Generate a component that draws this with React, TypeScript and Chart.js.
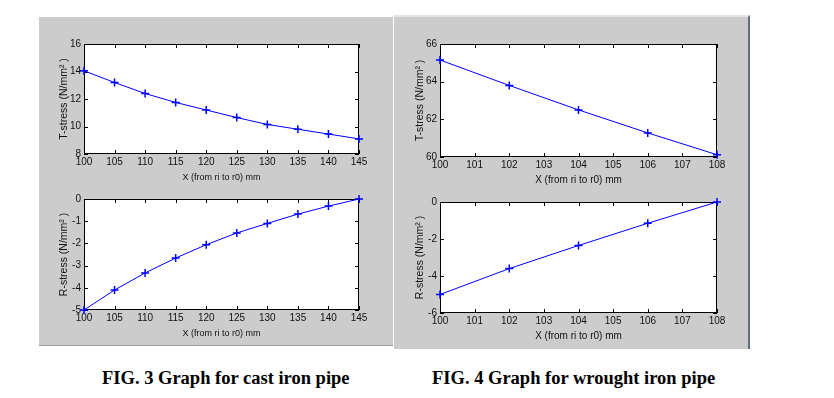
import React, { useEffect, useRef } from 'react';
import { Chart, registerables } from 'chart.js';

Chart.register(...registerables);

// ---- data ----
const castX = [100, 105, 110, 115, 120, 125, 130, 135, 140, 145];
const castT = [14.05, 13.2, 12.4, 11.75, 11.2, 10.65, 10.15, 9.8, 9.45, 9.1];
const castR = [-5.0, -4.1, -3.33, -2.66, -2.06, -1.53, -1.1, -0.68, -0.32, 0];

const wroughtX = [100, 102, 104, 106, 108];
const wroughtT = [65.15, 63.8, 62.5, 61.28, 60.12];
const wroughtR = [-5.0, -3.6, -2.35, -1.15, 0];

const yTitleT = 'T-stress (N/mm\u00B2 )';
const yTitleR = 'R-stress (N/mm\u00B2 )';
const xTitle = 'X (from ri to r0) mm';
const caption3 = 'FIG. 3 Graph for cast iron pipe';
const caption4 = 'FIG. 4 Graph for wrought iron pipe';

const NARROW = "'Liberation Sans Narrow', 'Liberation Sans', Arial, sans-serif";
const SANS = "'Liberation Sans', Arial, sans-serif";

const framePlugin = {
  id: 'frame',
  beforeDraw(chart: any) {
    const { ctx, chartArea: a } = chart;
    ctx.save();
    ctx.fillStyle = '#ffffff';
    ctx.fillRect(a.left, a.top, a.right - a.left, a.bottom - a.top);
    ctx.restore();
  },
  beforeDatasetsDraw(chart: any) {
    const { ctx, chartArea: a, scales } = chart;
    ctx.save();
    ctx.strokeStyle = '#000000';
    ctx.lineWidth = 1;
    ctx.strokeRect(a.left + 0.5, a.top + 0.5, a.right - a.left - 1, a.bottom - a.top - 1);
    ctx.beginPath();
    const L = 4;
    scales.x.ticks.forEach((t: any) => {
      const px = Math.round(scales.x.getPixelForValue(t.value)) + 0.5;
      ctx.moveTo(px, a.bottom);
      ctx.lineTo(px, a.bottom - L);
      ctx.moveTo(px, a.top);
      ctx.lineTo(px, a.top + L);
    });
    scales.y.ticks.forEach((t: any) => {
      const py = Math.round(scales.y.getPixelForValue(t.value)) + 0.5;
      ctx.moveTo(a.left, py);
      ctx.lineTo(a.left + L, py);
      ctx.moveTo(a.right, py);
      ctx.lineTo(a.right - L, py);
    });
    ctx.stroke();
    ctx.restore();
  },
};

interface PlotProps {
  left: number;
  top: number;
  plotW: number;
  plotH: number;
  xs: number[];
  ys: number[];
  xMin: number;
  xMax: number;
  xStep: number;
  yMin: number;
  yMax: number;
  yStep: number;
  yTitle: string;
  xTitleSize: number;
}

function Plot(p: PlotProps) {
  const ref = useRef<HTMLCanvasElement>(null);
  const padL = 26;
  const padT = 8;
  const padR = 12;
  const xH = 29;
  const W = padL + p.plotW + padR;
  const H = padT + p.plotH + xH;

  useEffect(() => {
    if (!ref.current) return;
    const chart = new Chart(ref.current, {
      type: 'line',
      data: {
        datasets: [
          {
            data: p.xs.map((x, i) => ({ x, y: p.ys[i] })),
            borderColor: '#0000ff',
            backgroundColor: '#0000ff',
            borderWidth: 1,
            pointStyle: 'cross',
            pointRadius: 4,
            pointBorderWidth: 1.5,
            pointBorderColor: '#0000ff',
            fill: false,
            tension: 0,
            clip: false,
          } as any,
        ],
      },
      options: {
        responsive: false,
        animation: false,
        devicePixelRatio: 1,
        layout: { padding: { left: 0, top: padT, right: padR, bottom: 0 } },
        plugins: { legend: { display: false }, tooltip: { enabled: false } },
        scales: {
          x: {
            type: 'linear',
            min: p.xMin,
            max: p.xMax,
            ticks: {
              stepSize: p.xStep,
              font: { family: NARROW, size: 10 },
              color: '#111111',
              padding: 2,
              maxRotation: 0,
              autoSkip: false,
            },
            grid: { display: false, drawTicks: false },
            border: { display: false },
            title: {
              display: true,
              text: xTitle,
              font: { family: NARROW, size: p.xTitleSize },
              color: '#111111',
              padding: 0,
            },
            afterFit: (s: any) => {
              s.height = xH;
            },
          },
          y: {
            type: 'linear',
            min: p.yMin,
            max: p.yMax,
            ticks: {
              stepSize: p.yStep,
              font: { family: NARROW, size: 10 },
              color: '#111111',
              padding: 3,
              autoSkip: false,
            },
            grid: { display: false, drawTicks: false },
            border: { display: false },
            title: {
              display: true,
              text: p.yTitle,
              font: { family: SANS, size: 10.5 },
              color: '#111111',
              padding: 0,
            },
            afterFit: (s: any) => {
              s.width = padL;
            },
          },
        },
      } as any,
      plugins: [framePlugin],
    });
    return () => chart.destroy();
  }, []);

  return (
    <canvas
      ref={ref}
      width={W}
      height={H}
      style={{ position: 'absolute', left: p.left - padL, top: p.top - padT, width: W, height: H }}
    />
  );
}

const captionStyle: React.CSSProperties = {
  position: 'absolute',
  top: 369,
  fontFamily: "'Liberation Serif', 'Times New Roman', serif",
  fontWeight: 'bold',
  fontSize: 18.5,
  lineHeight: '18px',
  whiteSpace: 'nowrap',
  color: '#000',
};

export default function App() {
  return (
    <div
      style={{
        position: 'absolute',
        left: 0,
        top: 0,
        width: 834,
        height: 398,
        background: '#ffffff',
        overflow: 'hidden',
      }}
    >
      <div
        style={{
          position: 'absolute',
          left: 39,
          top: 17,
          width: 354,
          height: 328,
          background: '#cccccc',
          borderBottom: '1px solid #9a9a9a',
        }}
      />
      <div
        style={{
          position: 'absolute',
          left: 394,
          top: 15,
          width: 354,
          height: 332,
          background: '#cccccc',
          borderTop: '2px solid #e4e4e4',
          borderRight: '2px solid #5e6e80',
        }}
      />
      <Plot
        left={84}
        top={43}
        plotW={275}
        plotH={111}
        xs={castX}
        ys={castT}
        xMin={100}
        xMax={145}
        xStep={5}
        yMin={8}
        yMax={16}
        yStep={2}
        yTitle={yTitleT}
        xTitleSize={9}
      />
      <Plot
        left={84}
        top={198}
        plotW={275}
        plotH={112}
        xs={castX}
        ys={castR}
        xMin={100}
        xMax={145}
        xStep={5}
        yMin={-5}
        yMax={0}
        yStep={1}
        yTitle={yTitleR}
        xTitleSize={9}
      />
      <Plot
        left={440}
        top={43}
        plotW={277}
        plotH={114}
        xs={wroughtX}
        ys={wroughtT}
        xMin={100}
        xMax={108}
        xStep={1}
        yMin={60}
        yMax={66}
        yStep={2}
        yTitle={yTitleT}
        xTitleSize={10}
      />
      <Plot
        left={440}
        top={201}
        plotW={277}
        plotH={112}
        xs={wroughtX}
        ys={wroughtR}
        xMin={100}
        xMax={108}
        xStep={1}
        yMin={-6}
        yMax={0}
        yStep={2}
        yTitle={yTitleR}
        xTitleSize={10}
      />
      <div style={{ ...captionStyle, left: 102 }}>{caption3}</div>
      <div style={{ ...captionStyle, left: 432 }}>{caption4}</div>
    </div>
  );
}
